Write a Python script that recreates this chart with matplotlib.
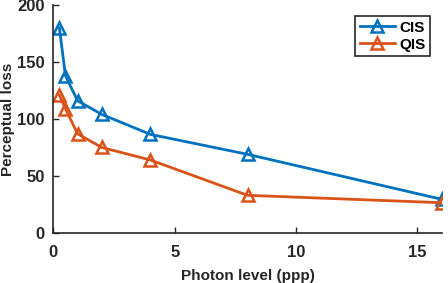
import matplotlib
matplotlib.use("Agg")
import matplotlib.pyplot as plt

# photon levels (ppp) and perceptual loss per sensor
photon = [0.25, 0.5, 1, 2, 4, 8, 16]
cis = [180, 138, 116, 104, 86.5, 69, 29.5]
qis = [121, 109, 87, 75, 64, 33, 26.5]

plt.rcParams['font.family'] = ['Liberation Sans', 'DejaVu Sans']
plt.rcParams['font.weight'] = 'bold'

fig = plt.figure(figsize=(4.48, 2.83), dpi=100)
ax = fig.add_axes([0.119, 0.177, 0.867, 0.805])

ax.plot(photon, cis, color='#0072BD', lw=2, marker='^', ms=9,
        mfc='none', mew=1.8, label='CIS')
ax.plot(photon, qis, color='#D95319', lw=2, marker='^', ms=9,
        mfc='none', mew=1.8, label='QIS')

ax.set_xlim(0, 16)
ax.set_ylim(0, 200)
ax.set_xticks([0, 5, 10, 15])
ax.set_yticks([0, 50, 100, 150, 200])
for s in ['top', 'right']:
    ax.spines[s].set_visible(False)
for s in ['left', 'bottom']:
    ax.spines[s].set_color('#262626')
    ax.spines[s].set_linewidth(1.2)
ax.tick_params(direction='in', length=4, width=1, colors='#262626',
               labelsize=12)
ax.tick_params(axis='x', pad=9)
ax.tick_params(axis='y', pad=6)
for lab in ax.get_xticklabels() + ax.get_yticklabels():
    lab.set_fontweight('bold')

ax.set_xlabel('Photon level (ppp)', fontsize=11, fontweight='bold',
              color='#262626', labelpad=6)
ax.set_ylabel('Perceptual loss', fontsize=11, fontweight='bold',
              color='#262626', va='center')
ax.yaxis.set_label_coords(-0.117, 0.5)

leg = ax.legend(loc='upper right', bbox_to_anchor=(0.99, 0.985), fontsize=11,
                fancybox=False, edgecolor='#262626', framealpha=1,
                handlelength=2.3, borderpad=0.3, labelspacing=0.2,
                handletextpad=0.3)
leg.get_frame().set_linewidth(1.2)

fig.savefig('out.png', dpi=100)
